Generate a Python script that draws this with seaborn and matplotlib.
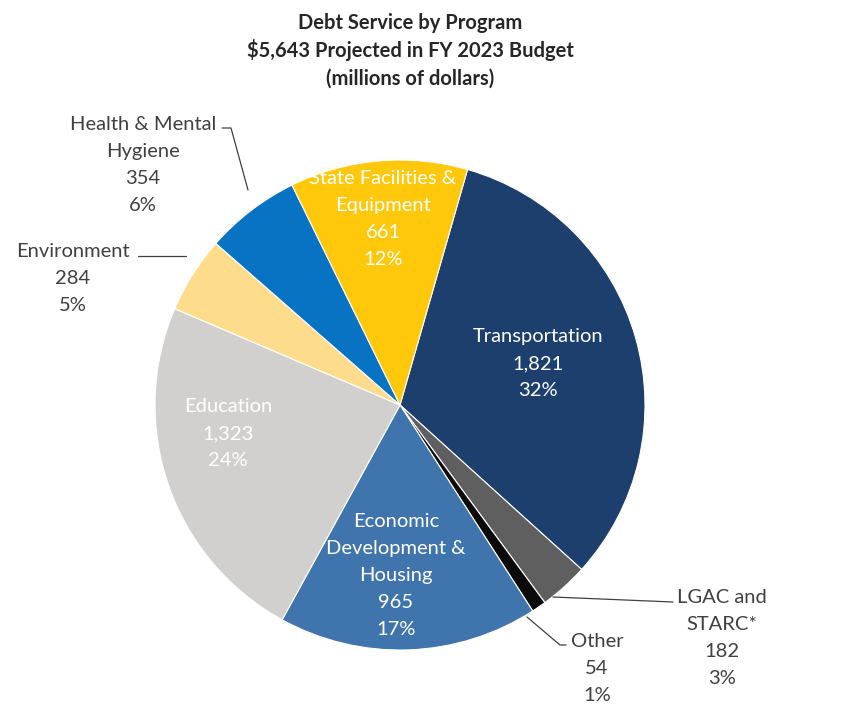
import matplotlib
matplotlib.use("Agg")
import matplotlib.pyplot as plt
import seaborn as sns

# Debt service by program, FY 2023 (millions of dollars), clockwise from Transportation
programs = ["Transportation", "LGAC and\nSTARC*", "Other", "Economic\nDevelopment &\nHousing",
            "Education", "Environment", "Health & Mental\nHygiene", "State Facilities &\nEquipment"]
amounts = [1821, 182, 54, 965, 1323, 284, 354, 661]
shares = ["32%", "3%", "1%", "17%", "24%", "5%", "6%", "12%"]
colors = ["#1d3f6e", "#5f5f5f", "#0a0a0a", "#3f74ad", "#d1d0cf", "#ffdc8c", "#0873c3", "#ffc80a"]
title_lines = ["Debt Service by Program", "$5,643 Projected in FY 2023 Budget", "(millions of dollars)"]

sns.set_theme(style="white")
plt.rcParams["font.family"] = ["Lato", "DejaVu Sans"]

W, H = 868, 713
fig = plt.figure(figsize=(W / 100, H / 100), dpi=100)
cx, cy, r = 400, 405, 245
ax = fig.add_axes([(cx - r) / W, (H - cy - r) / H, 2 * r / W, 2 * r / H])
ax.pie(amounts, colors=colors, startangle=74, counterclock=False, radius=1.0,
       wedgeprops=dict(edgecolor="white", linewidth=0.8))
ax.set_xlim(-1, 1)
ax.set_ylim(-1, 1)
ax.set_aspect("equal")
ax.axis("off")


def fx(px):
    return px / W


def fy(py):
    return 1 - py / H


def text_lines(lines, px, py, step, **kw):
    """Write lines one by one; py is the visual center of the first line."""
    for i, line in enumerate(lines):
        fig.text(fx(px), fy(py + i * step + 7), line, ha="center", va="baseline", **kw)


# first-line center (pixels), text colour
label_pos = [(538, 335, "white"), (722, 596, "#404040"), (597, 640, "#404040"),
             (396, 520, "white"), (228, 405, "white"), (73, 250, "#404040"),
             (143, 123, "#404040"), (383, 177, "white")]

for name, amt, pct, (px, py, col) in zip(programs, amounts, shares, label_pos):
    lines = name.split("\n") + [f"{amt:,}", pct]
    text_lines(lines, px, py, 27, color=col, fontsize=14.5)

# leader lines for outside labels
leaders = [
    [(222, 128), (231, 128), (248, 190)],
    [(138, 256), (186, 256)],
    [(553, 597), (673, 602)],
    [(527, 617), (560, 645), (566, 645)],
]
for pts in leaders:
    xs = [fx(p[0]) for p in pts]
    ys = [fy(p[1]) for p in pts]
    fig.add_artist(plt.Line2D(xs, ys, color="#404040", linewidth=0.9, transform=fig.transFigure))

text_lines(title_lines, 410, 22, 28, fontsize=14.5, fontweight="bold", color="#262626")

fig.savefig("out.png", dpi=100, facecolor="white")
